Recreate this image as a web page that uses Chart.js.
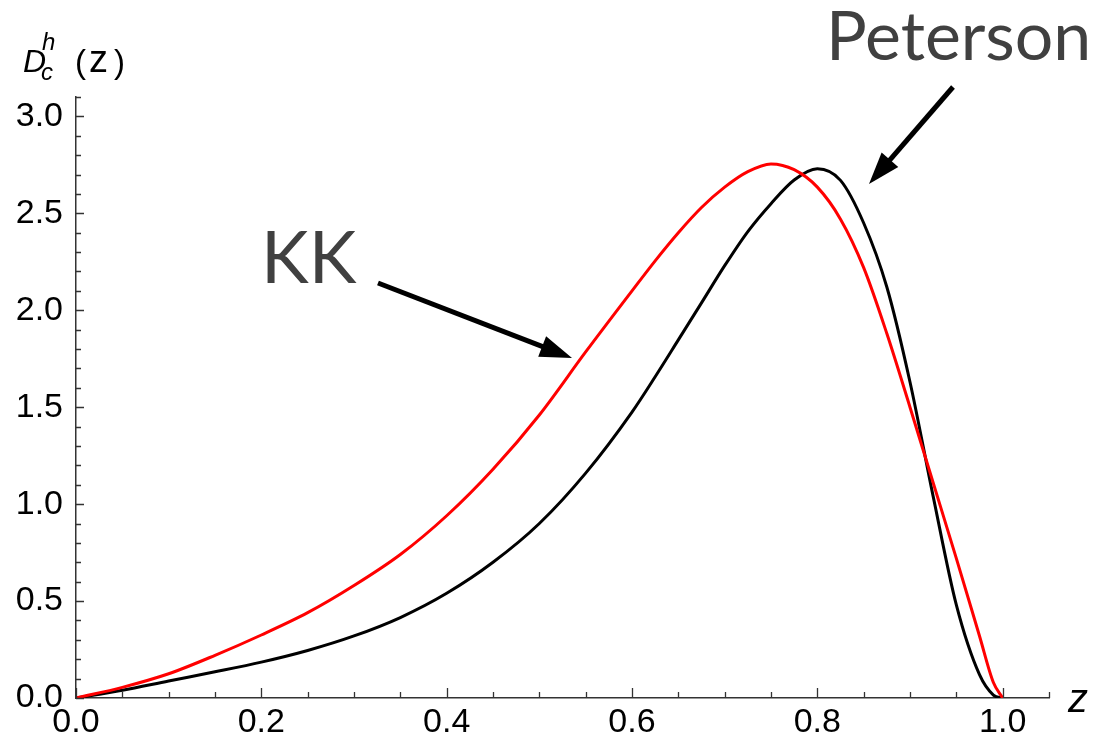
<!DOCTYPE html>
<html>
<head>
<meta charset="utf-8">
<title>D_c^h(z)</title>
<script src="https://cdn.jsdelivr.net/npm/chart.js@4/dist/chart.umd.min.js"></script>
<style>
  html, body { margin: 0; padding: 0; background: #fff; }
  #wrap { width: 1100px; height: 741px; }
</style>
</head>
<body>
<div id="wrap"><canvas id="frag" width="1100" height="741"></canvas></div>
<script>
// z grid shared by both curves (finer where the curves bend)
const zVals = [0, 0.05, 0.1, 0.15, 0.2, 0.25, 0.3, 0.35, 0.4, 0.45, 0.5, 0.55, 0.6,
               0.625, 0.65, 0.675, 0.7, 0.725, 0.75, 0.775, 0.8, 0.825, 0.85, 0.875,
               0.9, 0.925, 0.95, 0.975, 0.99, 1.0];

// KK fragmentation function (red)
const kkVals = [0, 0.055, 0.125, 0.22, 0.325, 0.44, 0.58, 0.74, 0.94, 1.18, 1.46, 1.785, 2.10,
                2.255, 2.40, 2.53, 2.635, 2.715, 2.755, 2.725, 2.635, 2.47, 2.22, 1.88,
                1.50, 1.11, 0.72, 0.32, 0.08, 0];

// Peterson fragmentation function (black)
const petVals = [0, 0.04, 0.088, 0.135, 0.185, 0.245, 0.32, 0.415, 0.54, 0.70, 0.90, 1.16, 1.475,
                 1.657, 1.847, 2.038, 2.23, 2.406, 2.55, 2.672, 2.73, 2.67, 2.45, 2.12,
                 1.63, 1.04, 0.48, 0.12, 0.015, 0];

const xTicks = [0, 0.2, 0.4, 0.6, 0.8, 1.0];
const yTicks = [0, 0.5, 1.0, 1.5, 2.0, 2.5, 3.0];

const toPoints = vals => zVals.map((z, i) => ({ x: z, y: vals[i] }));

const TICK_FONT = '"Liberation Sans", Arial, sans-serif';
const LABEL_FONT = 'Lato, "Open Sans", sans-serif';

// inward tick marks (major + minor), Mathematica style
function drawTicks(ctx, chart) {
  const xs = chart.scales.x, ys = chart.scales.y;
  const area = chart.chartArea;
  ctx.save();
  ctx.strokeStyle = '#333';
  ctx.lineWidth = 1.3;
  ctx.beginPath();
  for (let i = 0; i <= 21; i++) {
    const v = i * 0.05;
    const px = Math.round(xs.getPixelForValue(v)) + 0.5;
    const len = i % 4 === 0 ? 10 : 6;
    ctx.moveTo(px, area.bottom);
    ctx.lineTo(px, area.bottom - len);
  }
  for (let i = 0; i <= 31; i++) {
    const v = i * 0.1;
    const py = Math.round(ys.getPixelForValue(v)) + 0.5;
    const len = i % 5 === 0 ? 8 : 5;
    ctx.moveTo(area.left, py);
    ctx.lineTo(area.left + len, py);
  }
  ctx.stroke();
  ctx.restore();
}

function arrow(ctx, x0, y0, x1, y1) {
  const ang = Math.atan2(y1 - y0, x1 - x0);
  const headLen = 32, headW = 11;
  const bx = x1 - headLen * Math.cos(ang), by = y1 - headLen * Math.sin(ang);
  ctx.save();
  ctx.strokeStyle = '#000';
  ctx.fillStyle = '#000';
  ctx.lineWidth = 5;
  ctx.beginPath();
  ctx.moveTo(x0, y0);
  ctx.lineTo(bx + 4 * Math.cos(ang), by + 4 * Math.sin(ang));
  ctx.stroke();
  ctx.beginPath();
  ctx.moveTo(x1, y1);
  ctx.lineTo(bx - headW * Math.sin(ang), by + headW * Math.cos(ang));
  ctx.lineTo(bx + headW * Math.sin(ang), by - headW * Math.cos(ang));
  ctx.closePath();
  ctx.fill();
  ctx.restore();
}

const decorations = {
  id: 'decorations',
  afterDraw(chart) {
    const ctx = chart.ctx;
    drawTicks(ctx, chart);

    ctx.save();
    ctx.fillStyle = '#000';
    ctx.textBaseline = 'alphabetic';
    ctx.textAlign = 'left';

    // y axis title: D_c^h( z)
    ctx.font = `italic 32px ${TICK_FONT}`;
    ctx.fillText('D', 23, 72);
    ctx.font = `italic 24px ${TICK_FONT}`;
    ctx.fillText('h', 42, 50);
    ctx.fillText('c', 41, 80);
    ctx.font = `33px ${TICK_FONT}`;
    ctx.fillText('(', 75, 73);
    ctx.fillText(')', 114, 73);
    ctx.font = `38px ${TICK_FONT}`;
    ctx.fillText('z', 89, 72);

    // x axis title
    ctx.font = `italic 40px ${TICK_FONT}`;
    ctx.fillText('z', 1068, 712);

    // curve labels
    ctx.fillStyle = '#404040';
    ctx.font = `68px ${LABEL_FONT}`;
    ctx.fillText('Peterson', 826, 60);
    ctx.font = `72px ${LABEL_FONT}`;
    ctx.fillText('KK', 261, 283);
    ctx.restore();

    arrow(ctx, 378, 283, 572, 358);
    arrow(ctx, 953, 87, 869, 184);
  }
};

new Chart(document.getElementById('frag'), {
  type: 'line',
  data: {
    datasets: [
      {
        label: 'KK',
        data: toPoints(kkVals),
        borderColor: '#ff0000',
        borderWidth: 3,
        pointRadius: 0,
        cubicInterpolationMode: 'monotone',
        order: 0
      },
      {
        label: 'Peterson',
        data: toPoints(petVals),
        borderColor: '#000000',
        borderWidth: 3,
        pointRadius: 0,
        cubicInterpolationMode: 'monotone',
        order: 1
      }
    ]
  },
  options: {
    responsive: false,
    animation: false,
    layout: { padding: { top: 97, right: 51, left: 0, bottom: 0 } },
    plugins: { legend: { display: false }, tooltip: { enabled: false } },
    scales: {
      x: {
        type: 'linear',
        min: 0,
        max: 1.05,
        afterFit: s => { s.height = 43; },
        afterBuildTicks: s => { s.ticks = xTicks.map(v => ({ value: v })); },
        grid: { display: false, drawTicks: false },
        border: { display: true, color: '#333', width: 1.5 },
        ticks: {
          padding: 4,
          maxRotation: 0,
          autoSkip: false,
          color: '#000',
          font: { family: TICK_FONT, size: 34 },
          callback: v => Number(v).toFixed(1)
        }
      },
      y: {
        type: 'linear',
        min: 0,
        max: 3.1,
        afterFit: s => { s.width = 76; },
        afterBuildTicks: s => { s.ticks = yTicks.map(v => ({ value: v })); },
        grid: { display: false, drawTicks: false },
        border: { display: true, color: '#333', width: 1.5 },
        ticks: {
          padding: 13,
          autoSkip: false,
          color: '#000',
          font: { family: TICK_FONT, size: 34 },
          callback: v => Number(v).toFixed(1)
        }
      }
    }
  },
  plugins: [decorations]
});
</script>
</body>
</html>
